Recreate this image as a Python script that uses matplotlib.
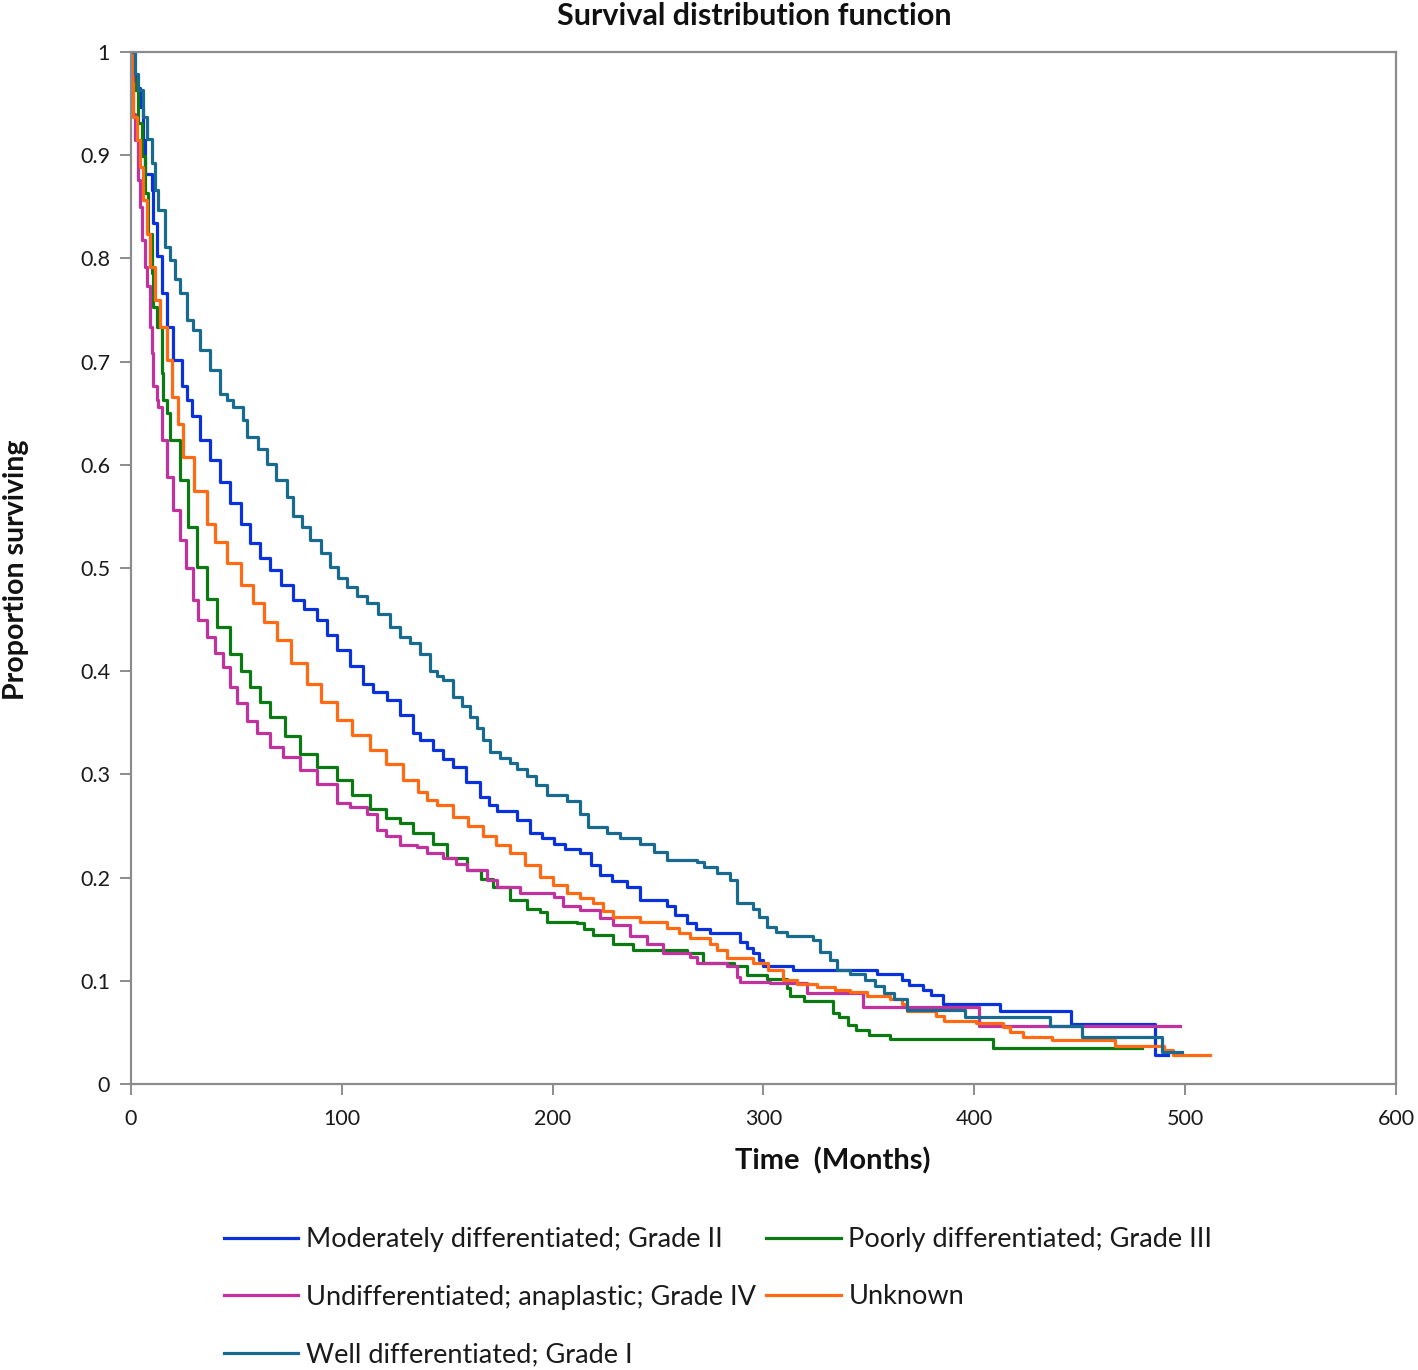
import matplotlib
matplotlib.use("Agg")
import matplotlib.pyplot as plt

plt.rcParams['font.family'] = ['Lato', 'DejaVu Sans']

# ---------------- data ----------------
mod_t = [0, 1.1, 2.5, 4.3, 5.8, 6.6, 9.8, 10.6, 12.2, 14.5, 16.9, 20.1, 24, 26.4, 28.8, 32.7,
         37.5, 42, 47, 52, 56.5, 61, 65.9, 71, 77, 82, 88.1, 93, 97.6, 104, 110.2, 115, 121.3,
         127.6, 133.9, 137.1, 143.4, 148, 152.9, 159, 165.6, 170, 173.5, 183, 189.3, 195, 200.4,
         206, 213, 218, 222.5, 228, 235.1, 241.5, 254.1, 258, 263.6, 268, 274.7, 288.9, 292,
         295.2, 298, 300, 314.2, 354, 365.6, 369, 375.8, 379.6, 385, 412, 446, 485.8, 492]
mod_s = [1.0, 0.979, 0.965, 0.947, 0.915, 0.882, 0.866, 0.834, 0.802, 0.766, 0.734, 0.702, 0.676,
         0.663, 0.647, 0.624, 0.605, 0.583, 0.563, 0.543, 0.524, 0.51, 0.498, 0.484, 0.469, 0.46,
         0.45, 0.435, 0.421, 0.405, 0.388, 0.38, 0.372, 0.358, 0.34, 0.333, 0.324, 0.315, 0.307,
         0.293, 0.278, 0.27, 0.265, 0.256, 0.243, 0.238, 0.233, 0.228, 0.224, 0.212, 0.203, 0.197,
         0.191, 0.178, 0.172, 0.164, 0.156, 0.15, 0.146, 0.138, 0.132, 0.127, 0.12, 0.114, 0.1105,
         0.1066, 0.1008, 0.0959, 0.091, 0.086, 0.078, 0.0707, 0.058, 0.028, 0.028]

poor_t = [0, 1, 1.9, 3.5, 5.1, 6.6, 8.2, 9.8, 10.6, 12.2, 14.5, 15.3, 16.9, 18.5, 23.2, 27, 31.2,
          36, 40.7, 47, 52, 56.5, 61, 65.9, 73, 80.2, 88, 97.6, 105, 113.4, 121, 127.6, 133.9,
          143.4, 149.8, 159.2, 166, 171.9, 179.8, 187.7, 194, 197.2, 211.4, 215, 219.3, 228.8,
          238.3, 263.6, 271.5, 285.8, 292.1, 301.5, 311, 312.6, 319, 333, 336, 340, 344, 350,
          360, 409, 479.4]
poor_s = [1.0, 0.975, 0.963, 0.931, 0.899, 0.863, 0.824, 0.786, 0.753, 0.734, 0.689, 0.663, 0.65,
          0.624, 0.585, 0.54, 0.501, 0.47, 0.443, 0.417, 0.4, 0.385, 0.37, 0.356, 0.337, 0.32,
          0.307, 0.295, 0.28, 0.266, 0.258, 0.253, 0.243, 0.233, 0.219, 0.207, 0.199, 0.191,
          0.178, 0.17, 0.167, 0.157, 0.156, 0.15, 0.144, 0.136, 0.13, 0.127, 0.117, 0.114, 0.106,
          0.102, 0.093, 0.085, 0.08, 0.0685, 0.065, 0.057, 0.052, 0.047, 0.0433, 0.0346, 0.0346]

undiff_t = [0, 0.3, 1, 1.9, 3.5, 4.3, 5.1, 6.6, 7.4, 9, 9.8, 10.6, 12.2, 13, 14.5, 16.9, 20, 23.2,
            26, 29.5, 32, 35.9, 40, 43.8, 47, 50.1, 55, 59.6, 66, 72.3, 80, 88.1, 97.6, 104,
            111.8, 116.5, 121, 127.6, 135.6, 140.3, 148.2, 154, 159.2, 168.7, 173.5, 184.5,
            200.4, 205, 213, 222.5, 228.8, 236.7, 244.6, 252.5, 265.2, 268.3, 282.6, 287.3,
            288.9, 303.1, 320.5, 347.4, 402, 497.6]
undiff_s = [1.0, 0.979, 0.94, 0.915, 0.876, 0.85, 0.818, 0.792, 0.773, 0.734, 0.708, 0.676,
            0.663, 0.656, 0.624, 0.588, 0.556, 0.527, 0.5, 0.469, 0.45, 0.433, 0.418, 0.404,
            0.385, 0.369, 0.352, 0.34, 0.327, 0.317, 0.304, 0.291, 0.272, 0.268, 0.262, 0.246,
            0.24, 0.232, 0.23, 0.224, 0.219, 0.213, 0.207, 0.198, 0.191, 0.185, 0.181, 0.172,
            0.169, 0.161, 0.154, 0.143, 0.136, 0.127, 0.123, 0.117, 0.114, 0.104, 0.099, 0.098,
            0.088, 0.075, 0.0562, 0.0562]

unk_t = [0, 0.5, 1.1, 2.7, 4.3, 5.8, 7.4, 9, 11.4, 13.8, 16.9, 19.3, 22.4, 24.8, 30, 36, 40,
         45.4, 52, 58, 63, 69.1, 76, 83.4, 90, 97.6, 105, 113.4, 121, 129.2, 136, 140.3, 145,
         152.9, 160, 167.1, 173, 179.8, 187, 194, 200, 206.6, 213, 219.3, 224, 228.8, 241.5,
         254.1, 260, 265.2, 274.7, 278, 282.6, 295.2, 302, 309.4, 316, 325.3, 334, 341, 349,
         360, 365.6, 368, 382, 385.4, 401, 413.8, 417, 423, 436.8, 466.8, 490, 494, 512]
unk_s = [1.0, 0.97, 0.937, 0.915, 0.889, 0.857, 0.824, 0.792, 0.76, 0.734, 0.702, 0.666, 0.64,
         0.608, 0.575, 0.543, 0.525, 0.505, 0.484, 0.466, 0.448, 0.43, 0.408, 0.388, 0.37,
         0.353, 0.338, 0.324, 0.31, 0.295, 0.283, 0.275, 0.27, 0.259, 0.25, 0.24, 0.232, 0.224,
         0.212, 0.201, 0.193, 0.185, 0.18, 0.175, 0.168, 0.162, 0.157, 0.151, 0.146, 0.141,
         0.136, 0.13, 0.122, 0.117, 0.11, 0.101, 0.097, 0.094, 0.091, 0.0895, 0.0856, 0.0824,
         0.0775, 0.071, 0.0662, 0.0614, 0.0588, 0.055, 0.05, 0.0452, 0.0426, 0.037, 0.033,
         0.028, 0.028]

well_t = [0, 1.9, 3.5, 5.8, 7.4, 9.8, 11.4, 13, 16.1, 18.5, 21, 23.2, 26.4, 29.5, 32.7, 37.5,
          42.2, 45.4, 48.5, 53.3, 54.9, 60, 64.4, 69, 73.9, 77, 81, 84.9, 90, 94.4, 98, 102.3,
          107, 111.8, 117, 122.9, 127.6, 132.4, 137.1, 141.8, 145, 148.2, 152.9, 157, 160.8,
          164, 167.1, 170.3, 175, 179.8, 183, 187.7, 192, 197.2, 206.6, 213, 216.9, 225.6, 232,
          241.5, 248, 254.1, 268.3, 272, 277.8, 284.2, 287.3, 295.2, 298, 301.5, 306, 311,
          323.7, 326.8, 331.6, 334.8, 341, 348, 353, 357, 362, 368, 395.6, 436, 451, 489, 498.4]
well_s = [1.0, 0.979, 0.963, 0.937, 0.916, 0.892, 0.866, 0.847, 0.811, 0.798, 0.78, 0.766, 0.74,
          0.731, 0.711, 0.692, 0.669, 0.663, 0.656, 0.643, 0.627, 0.615, 0.601, 0.585, 0.569,
          0.55, 0.54, 0.527, 0.515, 0.501, 0.49, 0.482, 0.473, 0.466, 0.455, 0.443, 0.433,
          0.427, 0.417, 0.4, 0.395, 0.391, 0.375, 0.366, 0.356, 0.345, 0.333, 0.322, 0.316,
          0.311, 0.305, 0.298, 0.29, 0.28, 0.274, 0.262, 0.249, 0.243, 0.238, 0.233, 0.225,
          0.217, 0.215, 0.21, 0.204, 0.198, 0.175, 0.17, 0.162, 0.152, 0.147, 0.143, 0.14,
          0.128, 0.12, 0.11, 0.107, 0.1008, 0.095, 0.088, 0.082, 0.0717, 0.0652, 0.0562,
          0.0459, 0.0313, 0.0313]

labels = ["Moderately differentiated; Grade II", "Poorly differentiated; Grade III",
          "Undifferentiated; anaplastic; Grade IV", "Unknown", "Well differentiated; Grade I"]
x_ticks = [0, 100, 200, 300, 400, 500, 600]
y_ticks = [0, 0.1, 0.2, 0.3, 0.4, 0.5, 0.6, 0.7, 0.8, 0.9, 1.0]
y_tick_labels = ["0", "0.1", "0.2", "0.3", "0.4", "0.5", "0.6", "0.7", "0.8", "0.9", "1"]

colors = ["#0A32DC", "#0B7A12", "#C2329E", "#FF6A12", "#186A8E"]
series = [(mod_t, mod_s), (poor_t, poor_s), (undiff_t, undiff_s), (unk_t, unk_s), (well_t, well_s)]

# ---------------- figure ----------------
W, H = 1418, 1370
fig = plt.figure(figsize=(W / 100, H / 100), dpi=100)
ax = fig.add_axes([131 / W, (H - 1084) / H, (1396 - 131) / W, (1084 - 52) / H])

handles = {}
for (t, s), c, lab in zip(series, colors, labels):
    ln, = ax.step(t, s, where='post', color=c, lw=2.3, label=lab)
    handles[lab] = ln

ax.set_xlim(0, 600)
ax.set_ylim(0, 1)
ax.set_xticks(x_ticks)
ax.set_xticklabels([str(v) for v in x_ticks])
ax.set_yticks(y_ticks)
ax.set_yticklabels(y_tick_labels)

for sp in ax.spines.values():
    sp.set_color("#8C8C8C")
    sp.set_linewidth(1.6)
ax.tick_params(axis='both', direction='out', length=8, width=1.4, color="#8C8C8C",
               labelsize=15.5, labelcolor="#1a1a1a")
ax.tick_params(axis='x', pad=10)
ax.tick_params(axis='y', pad=7)

fig.text(754 / W, 1 - 16 / H, "Survival distribution function", fontsize=22,
         fontweight='bold', ha='center', va='center', color="#111111")
fig.text(833 / W, 1 - 1161 / H, "Time  (Months)", fontsize=21,
         fontweight='bold', ha='center', va='center', color="#111111")
fig.text(16 / W, 1 - 570 / H, "Proportion surviving", fontsize=20.5,
         fontweight='bold', ha='center', va='center', rotation=90, color="#111111")

order = [labels[0], labels[2], labels[4], labels[1], labels[3]]
leg = fig.legend([handles[l] for l in order], order, ncol=2, frameon=False,
                 loc='upper left', bbox_to_anchor=(224 / W, 1 - 1227 / H),
                 fontsize=19.5, handlelength=2.75, handletextpad=0.28, columnspacing=0.38,
                 labelspacing=1.2, borderpad=0, borderaxespad=0)
for txt in leg.get_texts():
    txt.set_color("#1a1a1a")

fig.savefig("out.png", dpi=100)
